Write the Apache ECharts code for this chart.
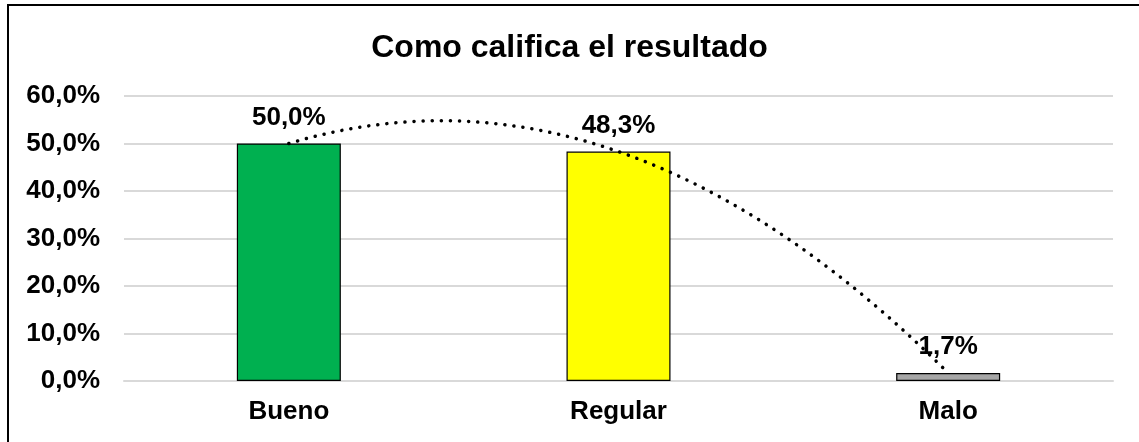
<!DOCTYPE html>
<html>
<head>
<meta charset="utf-8">
<script src="https://cdn.jsdelivr.net/npm/echarts@6/dist/echarts.min.js"></script>
<style>
html,body{margin:0;padding:0;background:#fff;}
#chart{width:1139px;height:442px;}
</style>
</head>
<body>
<div id="chart"></div>
<script>
// ---- data ----
var titleText = 'Como califica el resultado';
var categories = ['Bueno', 'Regular', 'Malo'];
var values = [50.0, 48.3, 1.7];
var yTicks = [0, 10, 20, 30, 40, 50, 60];

function fmt(v) { return v.toFixed(1).replace('.', ',') + '%'; }

// polynomial (order 2) least-squares trendline, as in the spreadsheet
function polyFit2(xs, ys) {
  var n = xs.length, S = [0,0,0,0,0], T = [0,0,0];
  for (var i = 0; i < n; i++) {
    var p = 1;
    for (var k = 0; k < 5; k++) { S[k] += p; if (k < 3) T[k] += p * ys[i]; p *= xs[i]; }
  }
  var A = [[S[0],S[1],S[2],T[0]],[S[1],S[2],S[3],T[1]],[S[2],S[3],S[4],T[2]]];
  for (var c = 0; c < 3; c++) {
    for (var r = c + 1; r < 3; r++) {
      var f = A[r][c] / A[c][c];
      for (var j = c; j < 4; j++) A[r][j] -= f * A[c][j];
    }
  }
  var x = [0,0,0];
  for (var r2 = 2; r2 >= 0; r2--) {
    var s = A[r2][3];
    for (var j2 = r2 + 1; j2 < 3; j2++) s -= A[r2][j2] * x[j2];
    x[r2] = s / A[r2][r2];
  }
  return x; // c0 + c1 x + c2 x^2
}
var xs = categories.map(function (_, i) { return i + 1; });
var coef = polyFit2(xs, values);

var colors = ['#00B050', '#FFFF00', '#A6A6A6'];
var FONT = '"Liberation Sans", Arial, sans-serif';

var chart = echarts.init(document.getElementById('chart'));
chart.setOption({
  animation: false,
  backgroundColor: '#fff',
  title: {
    text: titleText,
    left: 'center',
    top: 27,
    textStyle: { fontFamily: FONT, fontWeight: 'bold', fontSize: 32, color: '#000' }
  },
  graphic: [{
    type: 'rect',
    shape: { x: 8, y: 5, width: 1140, height: 445 },
    style: { fill: null, stroke: '#000', lineWidth: 2 },
    silent: true
  }],
  grid: { left: 124, right: 26, top: 96, bottom: 61 },
  xAxis: [{
    type: 'category',
    data: categories,
    axisLine: { show: true, lineStyle: { color: '#d9d9d9', width: 2 } },
    axisTick: { show: false },
    axisLabel: { fontFamily: FONT, fontWeight: 'bold', fontSize: 26, color: '#000', margin: 18 }
  }, {
    type: 'value', min: 0.5, max: 3.5, show: false
  }],
  yAxis: {
    type: 'value',
    min: yTicks[0], max: yTicks[yTicks.length - 1], interval: 10,
    axisLine: { show: false },
    axisTick: { show: false },
    splitLine: { lineStyle: { color: '#d9d9d9', width: 2 } },
    axisLabel: { fontFamily: FONT, fontWeight: 'bold', fontSize: 26, color: '#000', margin: 24,
      formatter: function (v) { return fmt(v); } }
  },
  series: [{
    type: 'bar',
    barWidth: 104,
    data: values.map(function (v, i) {
      return { value: v, itemStyle: { color: colors[i] } };
    }),
    itemStyle: { borderColor: '#000', borderWidth: 1.2 },
    label: {
      show: true, position: 'top', distance: 13,
      fontFamily: FONT, fontWeight: 'bold', fontSize: 26, color: '#000',
      formatter: function (p) { return fmt(p.value); }
    },
    z: 2
  }, {
    type: 'custom',
    xAxisIndex: 1,
    yAxisIndex: 0,
    data: [[xs[0], values[0]]],
    z: 10,
    renderItem: function (params, api) {
      var pts = [];
      var x0 = xs[0], x1 = xs[xs.length - 1];
      for (var t = x0; t <= x1 + 1e-9; t += 0.01) {
        var y = coef[0] + coef[1] * t + coef[2] * t * t;
        pts.push(api.coord([t, y]));
      }
      return {
        type: 'polyline',
        shape: { points: pts },
        style: { stroke: '#000', fill: null, lineWidth: 3.5, lineDash: [0.1, 9], lineCap: 'round' }
      };
    }
  }]
});
</script>
</body>
</html>
